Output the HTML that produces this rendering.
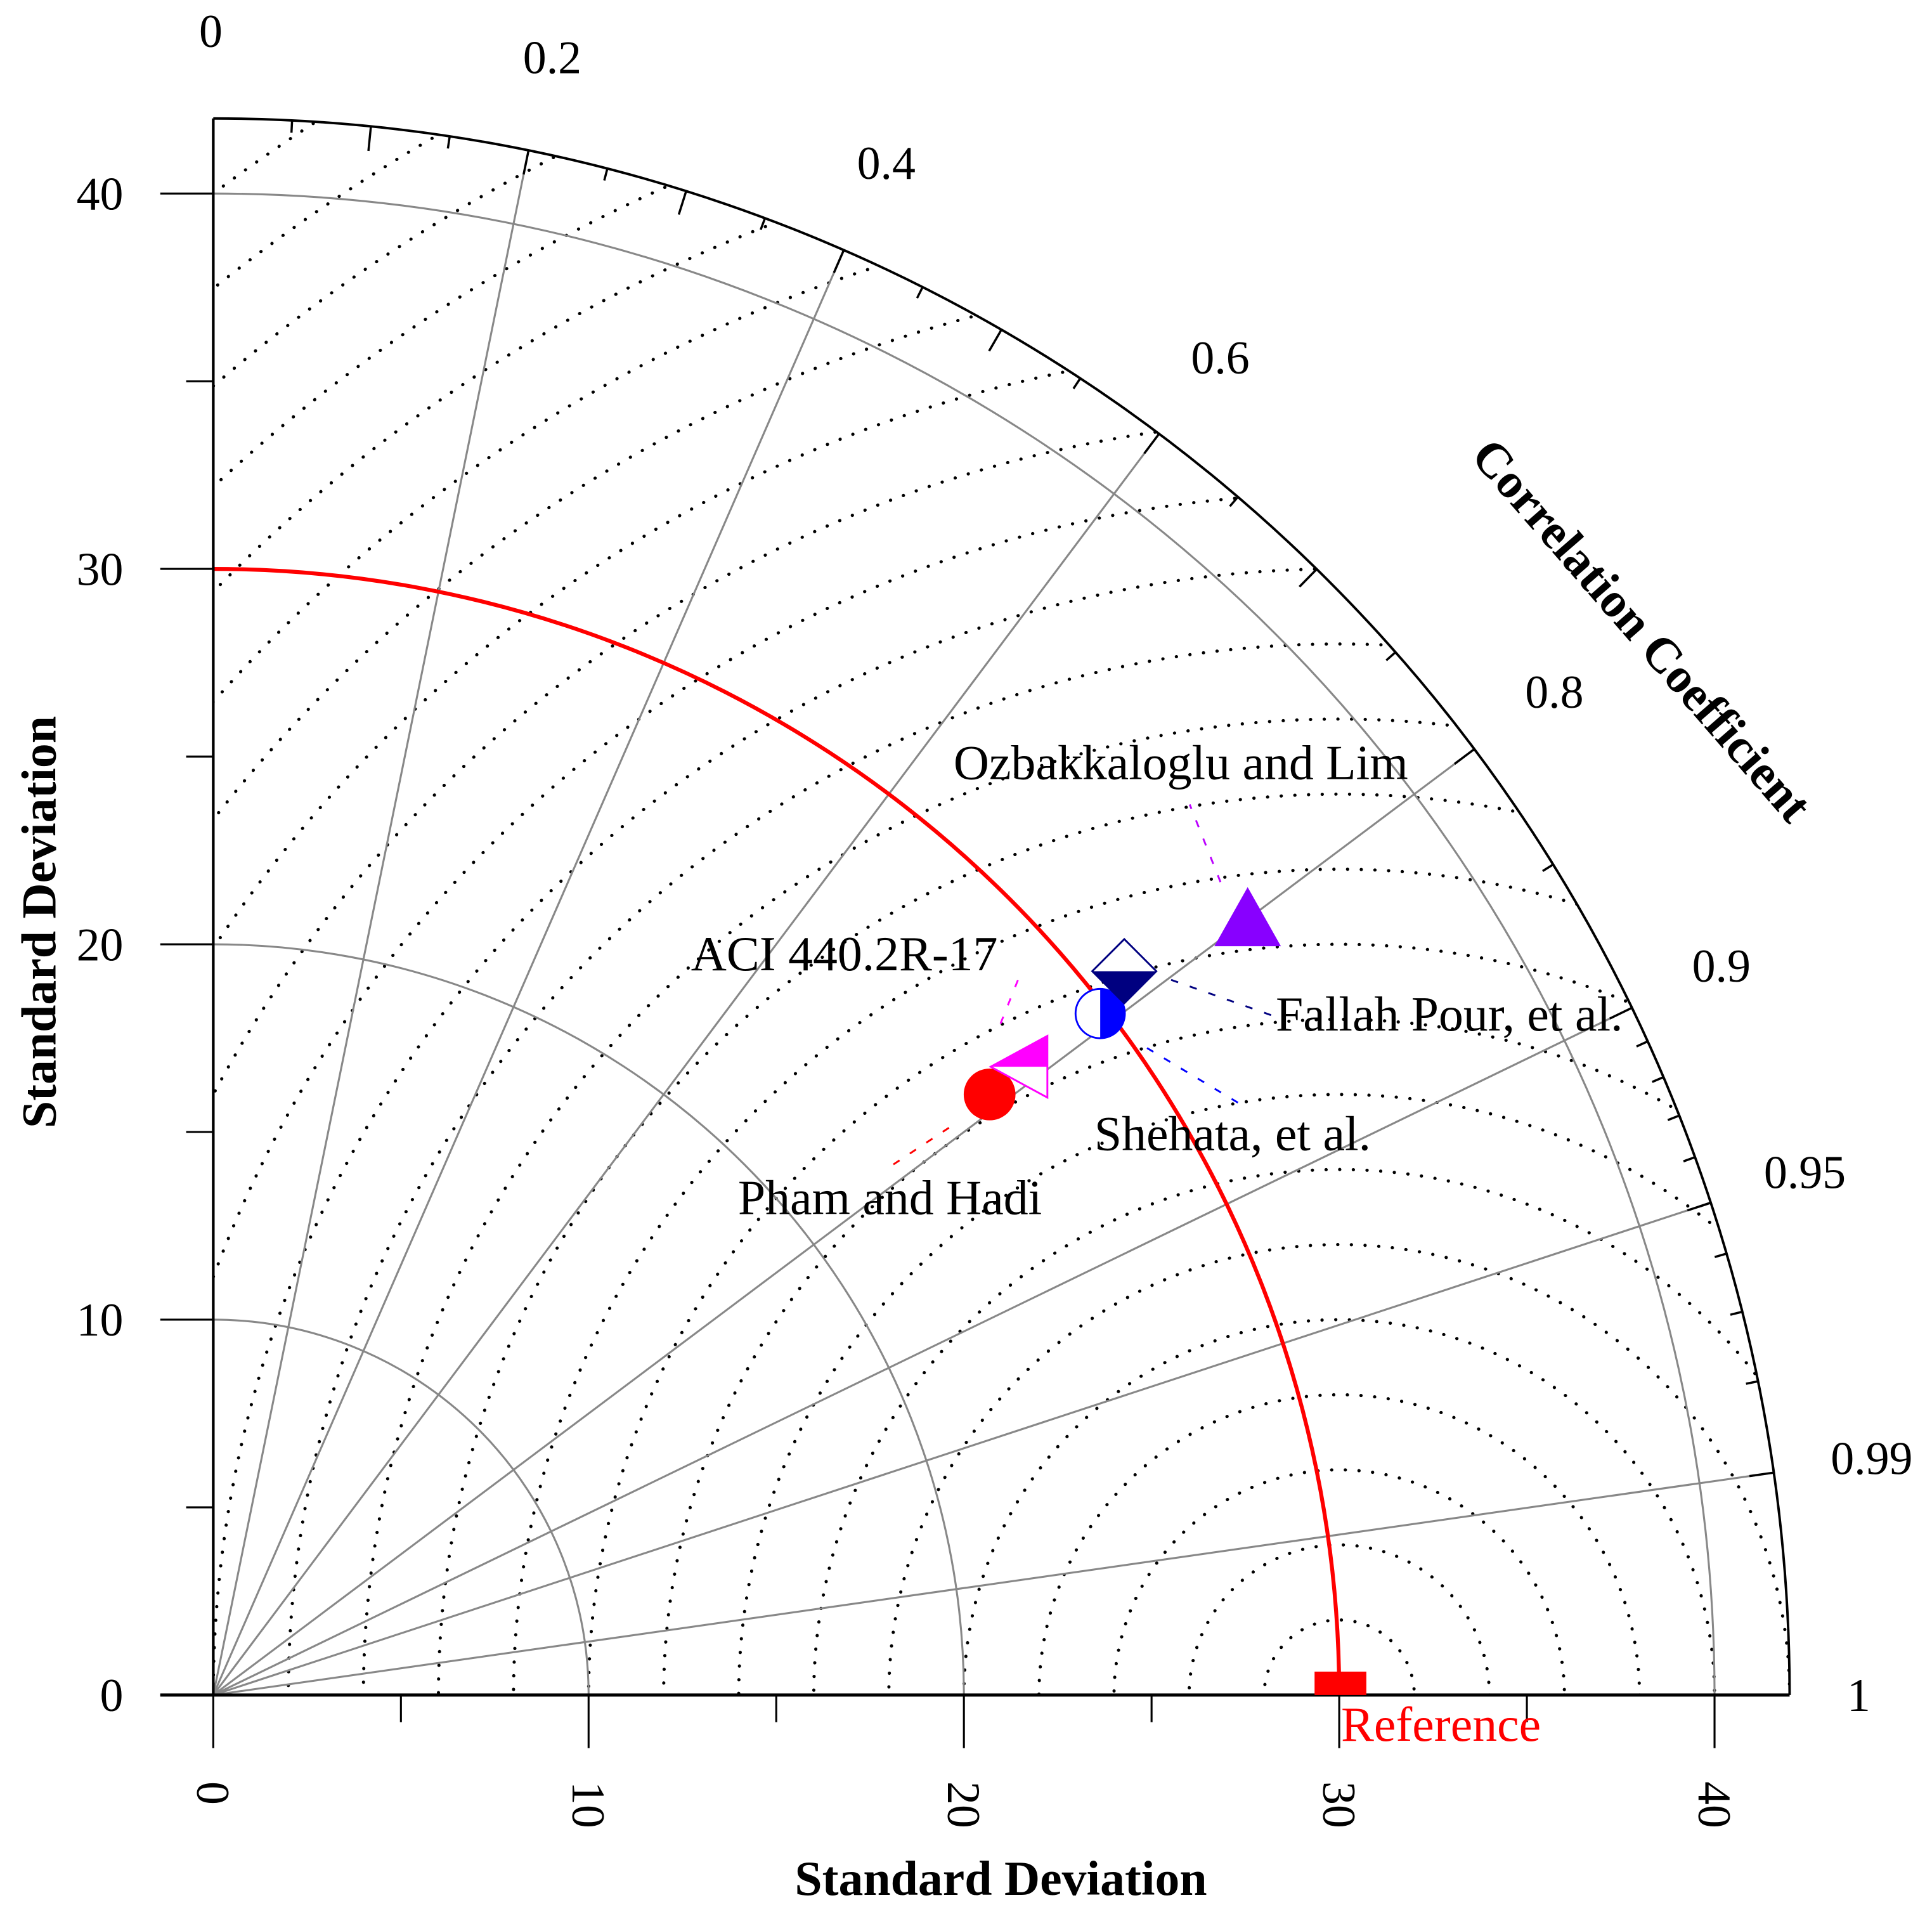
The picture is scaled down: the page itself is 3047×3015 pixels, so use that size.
<!DOCTYPE html>
<html><head><meta charset="utf-8"><style>
html,body{margin:0;padding:0;background:#fff;overflow:hidden;}
svg{display:block;}
text{font-family:"Liberation Serif",serif;}
</style></head><body>
<svg id="chart" width="3047" height="3015" viewBox="0 0 1567.4 1551" xmlns="http://www.w3.org/2000/svg">
<defs><clipPath id="quad"><path d="M173,1375 L173,96.1 A1278.9,1278.9 0 0 1 1451.9,1375 Z"/></clipPath></defs>
<g id="grid"></g>
<g id="axes"></g>
<g id="series"></g>
<g id="labels"></g>
<text x="0" y="0" transform="translate(45,748) rotate(-90)" text-anchor="middle" font-size="40" font-weight="bold">Standard Deviation</text>
<text x="812" y="1537" text-anchor="middle" font-size="40" font-weight="bold">Standard Deviation</text>
<text x="0" y="0" transform="translate(1322,520) rotate(49)" text-anchor="middle" font-size="40" font-weight="bold">Correlation Coefficient</text>
<text x="1088" y="1412" font-size="40" fill="#ff0000">Reference</text>
</svg>
<script>
const models = ["Pham and Hadi","ACI 440.2R-17","Shehata, et al.","Fallah Pour, et al.","Ozbakkaloglu and Lim"];
const stdDevs = [26.15, 27.3, 29.8, 31.0, 34.45];
const corrs = [0.791, 0.79, 0.793, 0.783, 0.80];
const refStd = 30;
const stdTicks = [0,10,20,30,40];
const corrLabels = ["0","0.2","0.4","0.6","0.8","0.9","0.95","0.99","1"];
const corrLabelVals = [0,0.2,0.4,0.6,0.8,0.9,0.95,0.99,1];
const corrLines = [0.2,0.4,0.6,0.8,0.9,0.95,0.99];

const NS="http://www.w3.org/2000/svg";
const O={x:173,y:1375}, S=30.45, RMAX=42;
function px(v){return O.x+v*S;}
function py(v){return O.y-v*S;}
function polar(r,c){const a=Math.acos(c);return {x:O.x+r*S*Math.cos(a),y:O.y-r*S*Math.sin(a)};}
function mk(tag,attrs,parent){const e=document.createElementNS(NS,tag);for(const k in attrs)e.setAttribute(k,attrs[k]);parent.appendChild(e);return e;}
const grid=document.getElementById('grid'),axes=document.getElementById('axes'),ser=document.getElementById('series'),lab=document.getElementById('labels');

const gc=mk('g',{'clip-path':'url(#quad)'},grid);
for(let r=2;r<=52;r+=2){
  const c=mk('circle',{cx:px(refStd),cy:O.y,r:r*S,fill:'none',stroke:'#000','stroke-width':2.6,'stroke-dasharray':'0.1 11','stroke-linecap':'round'},gc);
  
  
}
[10,20,40].forEach(r=>{
  const p=mk('path',{d:`M${O.x},${py(r)} A${r*S},${r*S} 0 0 1 ${px(r)},${O.y}`,fill:'none',stroke:'#888','stroke-width':1.6},grid);
  
  
});
corrLines.forEach(c=>{
  const e=polar(RMAX,c);
  const l=mk('line',{x1:O.x,y1:O.y,x2:e.x,y2:e.y,stroke:'#888','stroke-width':1.6},grid);
  
  
});
{
  const p=mk('path',{d:`M${O.x},${py(refStd)} A${refStd*S},${refStd*S} 0 0 1 ${px(refStd)},${O.y}`,fill:'none',stroke:'#ff0000','stroke-width':3.2},grid);
  
  
}
mk('path',{d:`M${O.x},${py(RMAX)} A${RMAX*S},${RMAX*S} 0 0 1 ${px(RMAX)},${O.y}`,fill:'none',stroke:'#000','stroke-width':2},axes);
mk('line',{x1:O.x,y1:O.y,x2:O.x,y2:py(RMAX),stroke:'#000','stroke-width':2.2},axes);
mk('line',{x1:130,y1:O.y,x2:px(RMAX),y2:O.y,stroke:'#000','stroke-width':2.6},axes);
for(let v=0;v<=40;v+=5){
  const major=v%10===0;
  mk('line',{x1:O.x,y1:py(v),x2:O.x-(major?43:22),y2:py(v),stroke:'#000','stroke-width':1.6},axes);
  mk('line',{x1:px(v),y1:O.y,x2:px(v),y2:O.y+(major?43:22),stroke:'#000','stroke-width':1.6},axes);
}
stdTicks.forEach(v=>{
  const t=mk('text',{x:100,y:py(v)+13,'text-anchor':'end','font-size':38},lab);t.textContent=v;
  
  
  const b=mk('text',{x:0,y:0,transform:`translate(${px(v)-13},${O.y+70}) rotate(90)`,'text-anchor':'start','font-size':38},lab);b.textContent=v;
  
  
});
const corrTicks=[];
for(let i=1;i<20;i++)corrTicks.push([i*0.05,i%2===0?20:10]);
for(let i=91;i<=99;i++)corrTicks.push([i/100,(i===95||i===99)?20:10]);
corrTicks.forEach(([c,len])=>{
  const a=polar(RMAX,c),b=polar(RMAX-len/S,c);
  mk('line',{x1:a.x,y1:a.y,x2:b.x,y2:b.y,stroke:'#000','stroke-width':1.8},axes);
});
corrLabels.forEach((s,i)=>{
  const p=polar(44.5,corrLabelVals[i]);
  let x=p.x+4,y=p.y+12;
  if(i===0){x=171;y=38;}
  if(i===corrLabels.length-1){x=1508;y=1388;}
  const t=mk('text',{x:x,y:y,'text-anchor':'middle','font-size':38},lab);
  t.textContent=s;
  
  
});

function pos(i){return polar(stdDevs[i],corrs[i]);}
{
  const p=pos(0);
  const c=mk('circle',{cx:p.x,cy:p.y,r:21,fill:'#ff0000'},ser);
  
  
}
{
  const p=pos(1);const g=mk('g',{},ser);
  
  
  mk('path',{d:`M${p.x-26},${p.y} L${p.x+20},${p.y-25} L${p.x+20},${p.y+25} Z`,fill:'#fff',stroke:'#ff00ff','stroke-width':1.5},g);
  mk('path',{d:`M${p.x-26},${p.y} L${p.x+20},${p.y-25} L${p.x+20},${p.y} Z`,fill:'#ff00ff'},g);
}
{
  const p=pos(2);const g=mk('g',{},ser);
  
  
  mk('circle',{cx:p.x,cy:p.y,r:20,fill:'#fff',stroke:'#0000ff','stroke-width':1.5},g);
  mk('path',{d:`M${p.x},${p.y-20} A20,20 0 0 1 ${p.x},${p.y+20} Z`,fill:'#0000ff'},g);
}
{
  const p=pos(3);const g=mk('g',{},ser);
  
  
  mk('path',{d:`M${p.x},${p.y-26} L${p.x+26},${p.y} L${p.x},${p.y+26} L${p.x-26},${p.y} Z`,fill:'#fff',stroke:'#000080','stroke-width':1.5},g);
  mk('path',{d:`M${p.x-26},${p.y} L${p.x+26},${p.y} L${p.x},${p.y+26} Z`,fill:'#000080'},g);
}
{
  const p=pos(4);
  const t=mk('path',{d:`M${p.x},${p.y-26} L${p.x+27},${p.y+22} L${p.x-27},${p.y+22} Z`,fill:'#8800ff'},ser);
  
  
}
{
  const x=px(refStd),y=O.y;
  const r=mk('rect',{x:x-20,y:y-19,width:42,height:19,fill:'#ff0000'},ser);
  
  
}
const lbl=[
  {i:0,tx:722,ty:985,anchor:'middle',l:[-33,27,-83,60],col:'#ff0000'},
  {i:1,tx:685,ty:787,anchor:'middle',l:[-18,-35,-2,-75],col:'#ff00ff'},
  {i:2,tx:1000,ty:933,anchor:'middle',l:[38,28,113,73],col:'#0000ff'},
  {i:3,tx:1035,ty:836,anchor:'start',l:[38,7,123,37],col:'#000080'},
  {i:4,tx:958,ty:632,anchor:'middle',l:[-22,-30,-47,-93],col:'#bb00ff'}
];
lbl.forEach(o=>{
  const p=pos(o.i);
  mk('line',{x1:p.x+o.l[0],y1:p.y+o.l[1],x2:p.x+o.l[2],y2:p.y+o.l[3],stroke:o.col,'stroke-width':1.5,'stroke-dasharray':'6 10'},lab);
  const t=mk('text',{x:o.tx,y:o.ty,'text-anchor':o.anchor,'font-size':40},lab);
  t.textContent=models[o.i];
  
  
});
</script>
</body></html>
